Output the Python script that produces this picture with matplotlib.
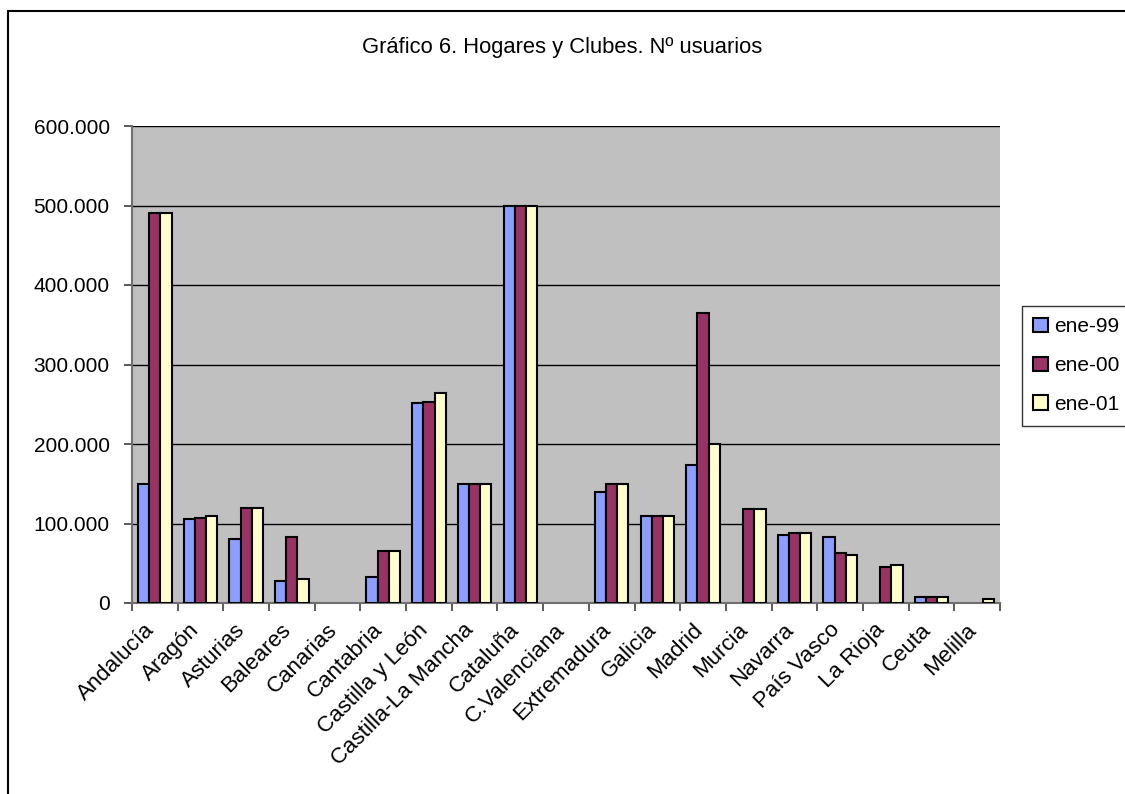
import numpy as np
import matplotlib
matplotlib.use("Agg")
import matplotlib.pyplot as plt
from matplotlib.ticker import FuncFormatter, FixedLocator

plt.rcParams['font.family'] = ['Liberation Sans', 'DejaVu Sans']

# Data
regiones = ['Andalucía', 'Aragón', 'Asturias', 'Baleares', 'Canarias', 'Cantabria',
            'Castilla y León', 'Castilla-La Mancha', 'Cataluña', 'C.Valenciana',
            'Extremadura', 'Galicia', 'Madrid', 'Murcia', 'Navarra', 'País Vasco',
            'La Rioja', 'Ceuta', 'Melilla']
ene99 = [150000, 105500, 80000, 27500, 0, 32500, 251000, 150000, 500000, 0,
         140000, 110000, 173000, 0, 85000, 82500, 0, 7000, 0]
ene00 = [490000, 107500, 120000, 83000, 0, 65000, 253000, 150000, 500000, 0,
         150000, 110000, 365000, 118000, 87500, 63000, 45000, 7000, 0]
ene01 = [490000, 110000, 120000, 30000, 0, 65000, 264000, 150000, 500000, 0,
         150000, 110000, 200000, 118000, 87500, 60000, 47500, 7000, 5000]
series = ['ene-99', 'ene-00', 'ene-01']
colores = ['#8C9EFF', '#993366', '#FFFFCC']

fig = plt.figure(figsize=(11.25, 7.94), dpi=100)
ax = fig.add_axes([132/1125, 1 - 603/794, (1000 - 132)/1125, (603 - 126)/794])
ax.set_facecolor('#C0C0C0')

x = np.arange(len(regiones))
w = 0.245
for k, (nombre, vals, c) in enumerate(zip(series, [ene99, ene00, ene01], colores)):
    vals = np.array(vals, dtype=float)
    vals[vals == 0] = np.nan
    ax.bar(x + (k - 1) * w, vals, w, color=c, edgecolor='black', linewidth=1.5,
           label=nombre, zorder=3)

ax.set_xlim(-0.5, len(regiones) - 0.5)
ax.set_ylim(0, 600000)
ax.set_yticks(np.arange(0, 600001, 100000))
ax.yaxis.set_major_formatter(FuncFormatter(lambda v, p: f'{int(v):,}'.replace(',', '.')))
ax.yaxis.grid(True, color='black', linewidth=1, zorder=1)
ax.set_axisbelow(True)

ax.set_xticks(x)
# baseline anchor pulls the rotated labels up-left; the pad pushes them back down
ax.set_xticklabels(regiones, rotation=45, ha='right', va='baseline',
                   rotation_mode='anchor', fontsize=16)
ax.xaxis.set_minor_locator(FixedLocator(np.arange(-0.5, len(regiones), 1)))
ax.tick_params(axis='x', which='major', length=0, pad=20)
ax.tick_params(axis='x', which='minor', length=6, color='#404040', width=1.2)
ax.tick_params(axis='y', length=6, color='#404040', width=1.2, labelsize=15, pad=10)

for s in ['top', 'right']:
    ax.spines[s].set_visible(False)
for s in ['left', 'bottom']:
    ax.spines[s].set_color('#707070')
    ax.spines[s].set_linewidth(1.5)

fig.text(0.5, 1 - 47/794, 'Gráfico 6. Hogares y Clubes. Nº usuarios', ha='center',
         va='center', fontsize=15.8)

leg = fig.legend(loc='upper left', bbox_to_anchor=(1022/1125, 1 - 306/794), fontsize=15,
                 frameon=True, fancybox=False, edgecolor='black', handlelength=0.7,
                 handleheight=0.7, handletextpad=0.3, labelspacing=0.95,
                 borderpad=0.55, borderaxespad=0)
leg.get_frame().set_linewidth(1)

# outer chart border
fig.add_artist(plt.Rectangle((8/1125, -0.02), 1.1, 1 - 11/794 + 0.02,
                             transform=fig.transFigure, fill=False,
                             edgecolor='black', linewidth=1.5))

fig.savefig('out.png', dpi=100)
